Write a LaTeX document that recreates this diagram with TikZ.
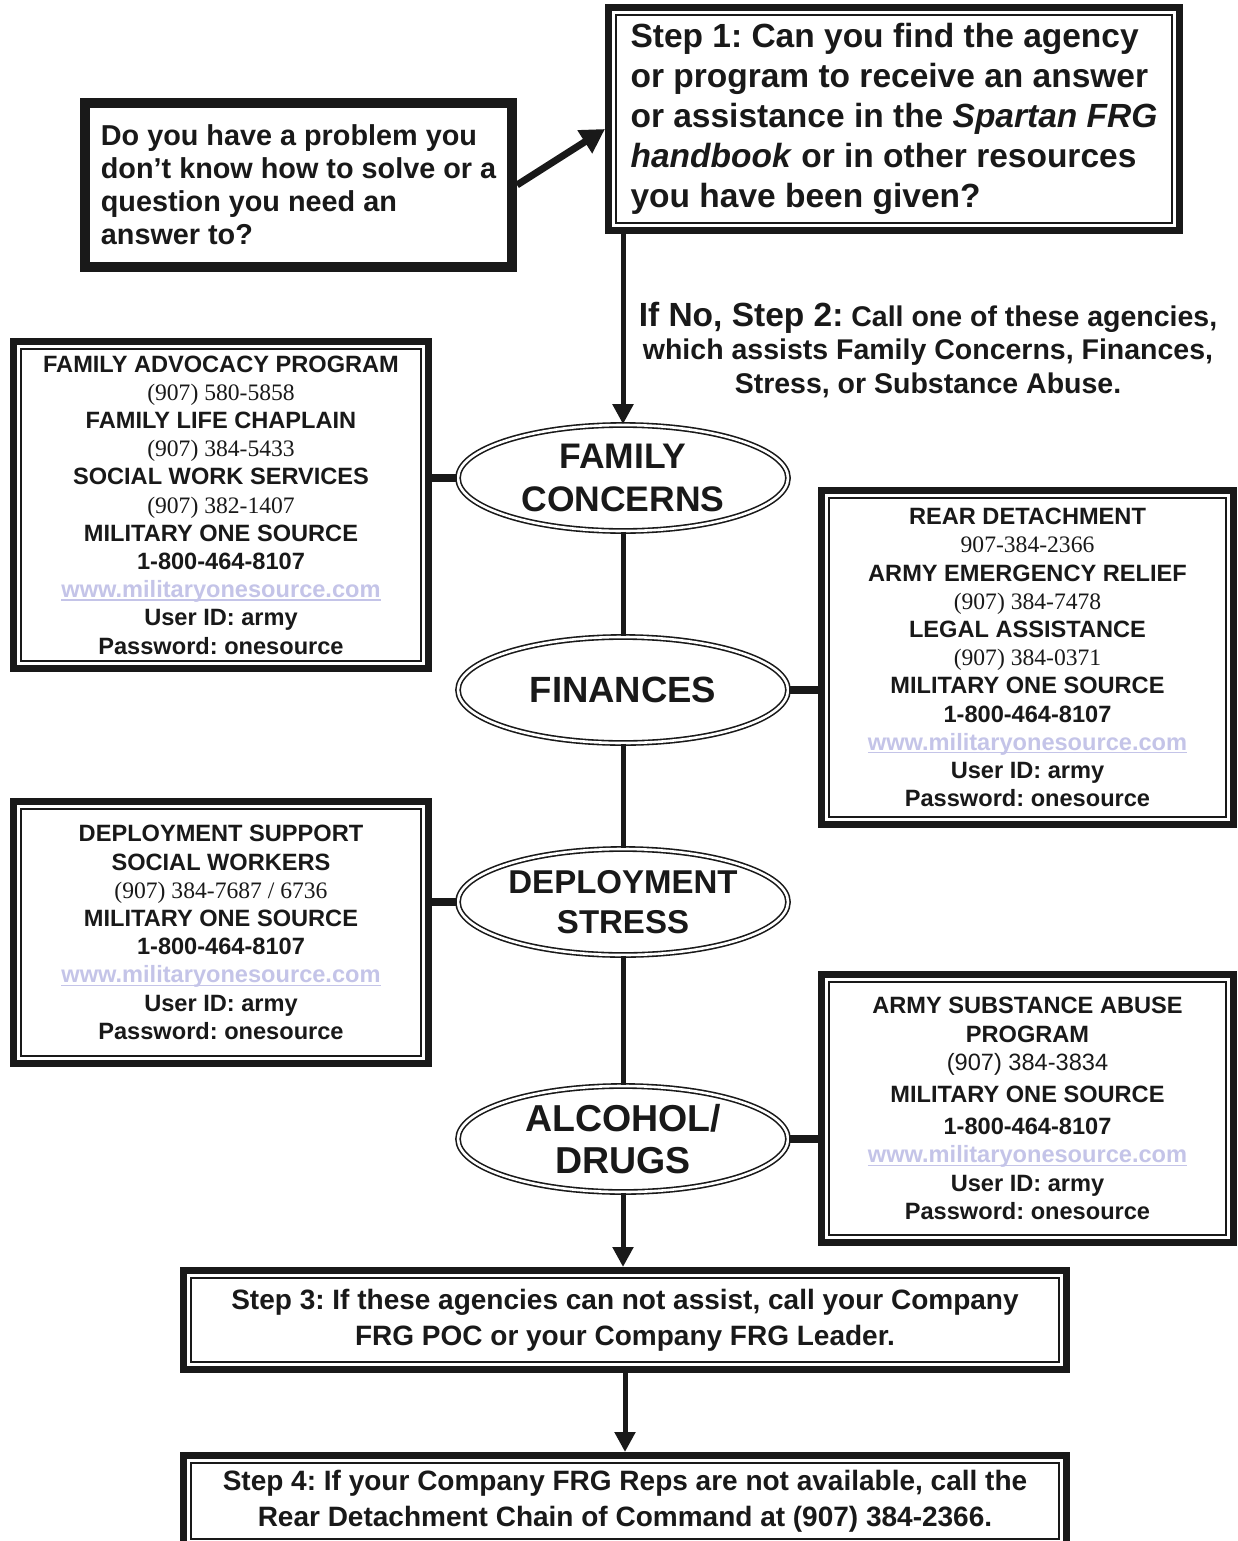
\documentclass[tikz,border=0pt]{standalone}
\usepackage{fontspec}
\setmainfont{Liberation Sans}
\newfontfamily\tms{Liberation Serif}
\usetikzlibrary{shapes.geometric,arrows.meta}
\definecolor{urlc}{RGB}{196,196,232}
\definecolor{ink}{RGB}{25,25,25}
\newcommand\urlt[1]{{\color{urlc}\setbox0\hbox{#1}\rlap{\rule[-3.2pt]{\wd0}{1.6pt}}\box0}}
\begin{document}
\frenchspacing
\begin{tikzpicture}[x=1pt,y=-1pt,
  every node/.style={text=ink},
  qbox/.style={draw=ink, line width=10pt, inner sep=0pt, align=left,
    minimum width=427pt, minimum height=164pt,
    font=\fontsize{28.8}{33}\selectfont\bfseries},
  ttframe/.style={draw=ink, line width=7pt, inner sep=0pt,
    path picture={\draw[ink, line width=1.6pt]
      ([shift={(7.3pt,-7.3pt)}]path picture bounding box.north west) rectangle
      ([shift={(-7.3pt,7.3pt)}]path picture bounding box.south east);}},
  sidebox/.style={ttframe, align=center,
    font=\fontsize{23.6}{28.2}\selectfont\bfseries},
  stepbox/.style={ttframe, align=center,
    font=\fontsize{28}{36}\selectfont\bfseries},
  ell/.style={ellipse, draw=ink, double, line width=1.6pt, double distance=2.6pt,
    minimum width=330pt, minimum height=106pt, inner sep=0pt, align=center},
  arr/.style={ink, line width=5pt, -{Triangle[width=20pt,length=20pt]}},
  vline/.style={ink, line width=5pt},
  hline/.style={ink, line width=8pt}
]
\fill[white] (0,0) rectangle (1238,1541);
\useasboundingbox (0,0) rectangle (1238,1541);

% question box
\node[qbox] (qa) at (298.5,185) {Do you have a problem you\\don’t know how to solve or a\\question you need an\\answer to?};

% step 1
\node[ttframe, align=left, minimum width=571pt, minimum height=223pt,
  font=\fontsize{33.5}{40}\selectfont\bfseries] (s1) at (894,119)
  {Step 1: Can you find the agency\\or program to receive an answer\\or assistance in the \textit{Spartan FRG}\\\textit{handbook} or in other resources\\you have been given?};

% step 2 text
\node[anchor=north, inner sep=0pt, align=center,
  font=\fontsize{28.5}{33.5}\selectfont\bfseries] (s2) at (928,302)
  {{\fontsize{33.5}{33.5}\selectfont If No, Step 2:} Call one of these agencies,\\which assists Family Concerns, Finances,\\Stress, or Substance Abuse.};

% ellipses
\node[ell, font=\fontsize{35.5}{43}\selectfont\bfseries] (fc) at (623,478) {FAMILY\\CONCERNS};
\node[ell, font=\fontsize{36.5}{43}\selectfont\bfseries] (fin) at (623,690) {FINANCES};
\node[ell, font=\fontsize{33}{40}\selectfont\bfseries] (ds) at (623,902) {DEPLOYMENT\\STRESS};
\node[ell, font=\fontsize{37.5}{42}\selectfont\bfseries] (ad) at (623,1139) {ALCOHOL/\\DRUGS};

% side boxes
\node[sidebox, minimum width=415pt, minimum height=327pt] (lb1) at (221,505)
  {FAMILY ADVOCACY PROGRAM\\
   {\tms\mdseries (907) 580-5858}\\
   FAMILY LIFE CHAPLAIN\\
   {\tms\mdseries (907) 384-5433}\\
   SOCIAL WORK SERVICES\\
   {\tms\mdseries (907) 382-1407}\\
   MILITARY ONE SOURCE\\
   1-800-464-8107\\
   \urlt{www.militaryonesource.com}\\
   User ID: army\\
   Password: onesource};

\node[sidebox, minimum width=412pt, minimum height=334pt] (rb1) at (1027.5,657.5)
  {REAR DETACHMENT\\
   {\tms\mdseries 907-384-2366}\\
   ARMY EMERGENCY RELIEF\\
   {\tms\mdseries (907) 384-7478}\\
   LEGAL ASSISTANCE\\
   {\tms\mdseries (907) 384-0371}\\
   MILITARY ONE SOURCE\\
   1-800-464-8107\\
   \urlt{www.militaryonesource.com}\\
   User ID: army\\
   Password: onesource};

\node[sidebox, minimum width=415pt, minimum height=262pt] (lb2) at (221,932.5)
  {DEPLOYMENT SUPPORT\\
   SOCIAL WORKERS\\
   {\tms\mdseries (907) 384-7687 / 6736}\\
   MILITARY ONE SOURCE\\
   1-800-464-8107\\
   \urlt{www.militaryonesource.com}\\
   User ID: army\\
   Password: onesource};

\node[sidebox, minimum width=412pt, minimum height=268pt] (rb2) at (1027.5,1108.5)
  {ARMY SUBSTANCE ABUSE\\
   PROGRAM\\
   {\mdseries (907) 384-3834}\\[4pt]
   MILITARY ONE SOURCE\\[4pt]
   1-800-464-8107\\
   \urlt{www.militaryonesource.com}\\
   User ID: army\\
   Password: onesource};

% steps 3 and 4
\node[stepbox, minimum width=883pt, minimum height=99pt] (s3) at (625,1320)
  {Step 3: If these agencies can not assist, call your Company\\FRG POC or your Company FRG Leader.};
\node[stepbox, minimum width=883pt, minimum height=91pt] (s4) at (625,1501)
  {Step 4: If your Company FRG Reps are not available, call the\\Rear Detachment Chain of Command at (907) 384-2366.};

% connectors
\draw[ink, line width=7pt, -{Triangle[width=26pt,length=24pt]}] (qa.east) -- ([yshift=-10pt]s1.west);
\draw[arr] (fc.north |- s1.south) -- (fc.north);
\draw[vline] (fc) -- (fin);
\draw[vline] (fin) -- (ds);
\draw[vline] (ds) -- (ad);
\draw[hline] (lb1.east |- fc.west) -- (fc.west);
\draw[hline] (fin.east) -- (fin.east -| rb1.west);
\draw[hline] (lb2.east |- ds.west) -- (ds.west);
\draw[hline] (ad.east) -- (ad.east -| rb2.west);
\draw[arr] (ad.south) -- (ad.south |- s3.north);
\draw[arr] (s3.south) -- (s4.north);
\end{tikzpicture}
\end{document}
